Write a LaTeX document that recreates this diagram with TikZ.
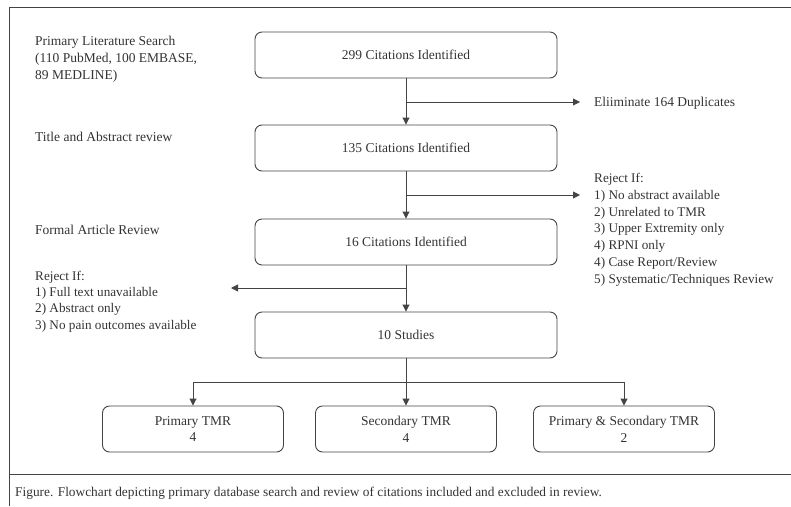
\documentclass[tikz,border=0pt]{standalone}
\usepackage{fontspec}
\setmainfont{Liberation Serif}
\usetikzlibrary{arrows.meta}
\definecolor{ink}{HTML}{333333}
\definecolor{edge}{HTML}{444444}
\begin{document}
\begin{tikzpicture}[x=1pt,y=-1pt,
  every node/.style={font=\fontsize{13.5}{16.8}\selectfont, text=ink},
  box/.style={draw=edge, line width=0.9pt, rounded corners=7pt, minimum width=302pt, minimum height=46pt, inner sep=0pt},
  smallbox/.style={draw=edge, line width=0.9pt, rounded corners=7pt, minimum width=181pt, minimum height=46pt, inner sep=0pt, align=center},
  lbl/.style={anchor=north west, align=left, inner sep=0pt},
  conn/.style={draw=edge, line width=0.9pt},
  arr/.style={conn, -{Triangle[length=7pt,width=7pt]}},
  frame/.style={draw=edge, line width=1pt}]
\useasboundingbox (0,0) rectangle (791,506);
\draw[frame] (9,506) -- (9,7) -- (791,7);
\draw[frame] (9,474) -- (791,474);

\node[box] (b1) at (406,55) {299 Citations Identified};
\node[box] (b2) at (406,148) {135 Citations Identified};
\node[box] (b3) at (406,242) {16 Citations Identified};
\node[box] (b4) at (406,335) {10 Studies};
\node[smallbox] (p1) at (193,429) {Primary TMR\\4};
\node[smallbox] (p2) at (406,429) {Secondary TMR\\4};
\node[smallbox] (p3) at (624,429) {Primary \& Secondary TMR\\2};

\node[lbl] (l1) at (35,36) {Primary Literature Search\\(110 PubMed, 100 EMBASE,\\89 MEDLINE)};
\node[lbl] (l2) at (35,132) {Title and Abstract review};
\node[lbl] (l3) at (35,225) {Formal Article Review};
\node[lbl, font=\fontsize{13.2}{16.2}\selectfont] (l4) at (35,271) {Reject If:\\1) Full text unavailable\\2) Abstract only\\3) No pain outcomes available};
\node[lbl] (r1) at (594,97) {Eliiminate 164 Duplicates};
\node[lbl, font=\fontsize{13.2}{16.8}\selectfont] (r2) at (594,173) {Reject If:\\1) No abstract available\\2) Unrelated to TMR\\3) Upper Extremity only\\4) RPNI only\\4) Case Report/Review\\5) Systematic/Techniques Review};
\node[lbl, font=\fontsize{13.35}{16}\selectfont] (cap) at (15,487) {Figure. Flowchart depicting primary database search and review of citations included and excluded in review.};

\coordinate (j1) at (406,102);
\coordinate (e1) at (580,102);
\coordinate (j2) at (406,195);
\coordinate (e2) at (580,195);
\coordinate (j3) at (406,288);
\coordinate (e3) at (231,288);
\coordinate (j4) at (406,382);

\draw[arr] (b1.south) -- (b2.north);
\draw[arr] (j1) -- (e1);
\draw[arr] (b2.south) -- (b3.north);
\draw[arr] (j2) -- (e2);
\draw[arr] (b3.south) -- (b4.north);
\draw[arr] (j3) -- (e3);
\draw[arr] (b4.south) -- (p2.north);
\draw[arr] (j4) -| (p1.north);
\draw[arr] (j4) -| (p3.north);
\end{tikzpicture}
\end{document}
